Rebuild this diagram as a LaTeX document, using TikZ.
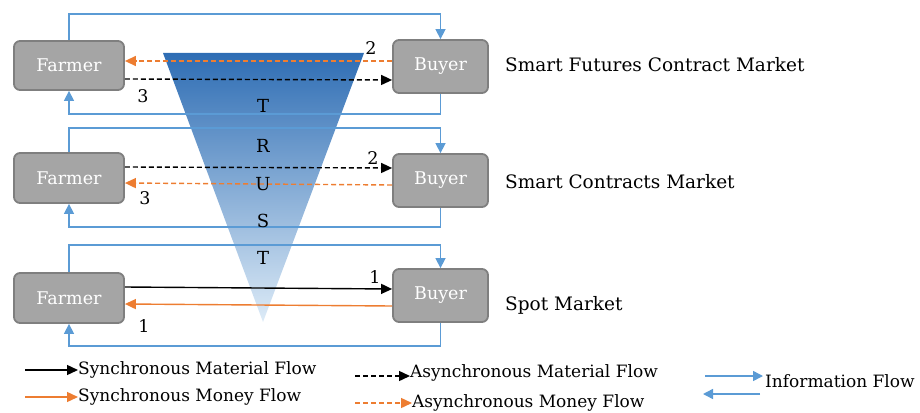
\documentclass[tikz,border=0pt]{standalone}
\usepackage{fontspec}
\setmainfont{DejaVu Serif}
\usetikzlibrary{arrows.meta}
\definecolor{infoblue}{HTML}{5B9BD5}
\definecolor{money}{HTML}{ED7D31}
\definecolor{boxfill}{HTML}{A5A5A5}
\definecolor{boxline}{HTML}{7F7F7F}
\definecolor{trdark}{HTML}{2E6DB4}
\definecolor{trlight}{HTML}{DDEBF7}
\tikzset{
  party/.style={draw=boxline, line width=1.8pt, fill=boxfill, rounded corners=6pt,
    text=white, font=\fontsize{17.5}{20}\selectfont, inner sep=0pt},
  info/.style={draw=infoblue, line width=1.5pt, -{Triangle[length=10pt,width=10pt]}},
  mat/.style={draw=black, line width=1.4pt, -{Triangle[length=11pt,width=10pt]}},
  pay/.style={draw=money, line width=1.4pt, -{Triangle[length=11pt,width=10pt]}},
  dsh/.style={dash pattern=on 5pt off 3pt},
  num/.style={font=\fontsize{17.5}{20}\selectfont, inner sep=0pt},
  mkt/.style={font=\fontsize{18.5}{22}\selectfont, anchor=west, inner sep=0pt},
  leg/.style={font=\fontsize{17}{20}\selectfont, anchor=west, inner sep=0pt},
  trl/.style={font=\fontsize{18}{20}\selectfont, inner sep=0pt}
}
\begin{document}
\begin{tikzpicture}[x=1pt,y=-1pt]
\useasboundingbox (0,0) rectangle (920,412);
% trust triangle
\shade[top color=trdark, bottom color=trlight] (163,53) -- (364,53) -- (263,322) -- cycle;
% parties
\node[party, minimum width=110pt, minimum height=49pt] (f1) at (69,65.5) {Farmer};
\node[party, minimum width=110pt, minimum height=50pt] (f2) at (69,178) {Farmer};
\node[party, minimum width=110pt, minimum height=50pt] (f3) at (69,298) {Farmer};
\node[party, minimum width=95pt, minimum height=53pt] (b1) at (440.5,66.5) {Buyer};
\node[party, minimum width=95pt, minimum height=53pt] (b2) at (440.5,180.5) {Buyer};
\node[party, minimum width=95pt, minimum height=53pt] (b3) at (440.5,295.5) {Buyer};
% information loops
\coordinate (t1) at (0,14);   \coordinate (u1) at (0,114);
\coordinate (t2) at (0,128);  \coordinate (u2) at (0,227);
\coordinate (t3) at (0,245);  \coordinate (u3) at (0,346);
\draw[info] (f1.north) -- (f1.north |- t1) -| (b1.north);
\draw[info] (b1.south) -- (b1.south |- u1) -| (f1.south);
\draw[info] (f2.north) -- (f2.north |- t2) -| (b2.north);
\draw[info] (b2.south) -- (b2.south |- u2) -| (f2.south);
\draw[info] (f3.north) -- (f3.north |- t3) -| (b3.north);
\draw[info] (b3.south) -- (b3.south |- u3) -| (f3.south);
% flows row 1
\draw[pay,dsh] (b1.west |- 0,61) -- (f1.east |- 0,61);
\draw[mat,dsh] (f1.east |- 0,79) -- (b1.west |- 0,80);
\node[num] (n12) at (371,48) {2};
\node[num] (n13) at (143,96) {3};
% flows row 2
\draw[mat,dsh] (f2.east |- 0,167) -- (b2.west |- 0,168);
\draw[pay,dsh] (b2.west |- 0,185) -- (f2.east |- 0,183);
\node[num] (n22) at (373,158) {2};
\node[num] (n23) at (145,198) {3};
% flows row 3
\draw[mat] (f3.east |- 0,287) -- (b3.west |- 0,289);
\draw[pay] (b3.west |- 0,306) -- (f3.east |- 0,304);
\node[num] (n32) at (375,277) {1};
\node[num] (n33) at (144,326) {1};
% TRUST
\node[trl] (tr1) at (263,106) {T};
\node[trl] (tr2) at (263,146) {R};
\node[trl] (tr3) at (263,184) {U};
\node[trl] (tr4) at (263,221) {S};
\node[trl] (tr5) at (263,258) {T};
% market labels
\node[mkt] (m1) at (505,65) {Smart Futures Contract Market};
\node[mkt] (m2) at (505,182) {Smart Contracts Market};
\node[mkt] (m3) at (505,305) {Spot Market};
% legend
\node[leg] (l1) at (78,370) {Synchronous Material Flow};
\node[leg] (l2) at (78,397) {Synchronous Money Flow};
\node[leg] (l3) at (410,373) {Asynchronous Material Flow};
\node[leg] (l4) at (412,403) {Asynchronous Money Flow};
\node[leg] (l5) at (765,381) {Information Flow};
\coordinate (a1) at (25,370); \coordinate (a2) at (25,397);
\coordinate (a3) at (355,376); \coordinate (a4) at (355,403);
\coordinate (a5) at (705,376); \coordinate (a5e) at (763,376);
\coordinate (a6) at (760,394); \coordinate (a6e) at (703,394);
\draw[mat] (a1) -- (l1.west);
\draw[pay] (a2) -- (l2.west);
\draw[mat,dsh] (a3) -- (l3.west |- a3);
\draw[pay,dsh] (a4) -- (l4.west);
\draw[info] (a5) -- (a5e);
\draw[info] (a6) -- (a6e);
\end{tikzpicture}
\end{document}
